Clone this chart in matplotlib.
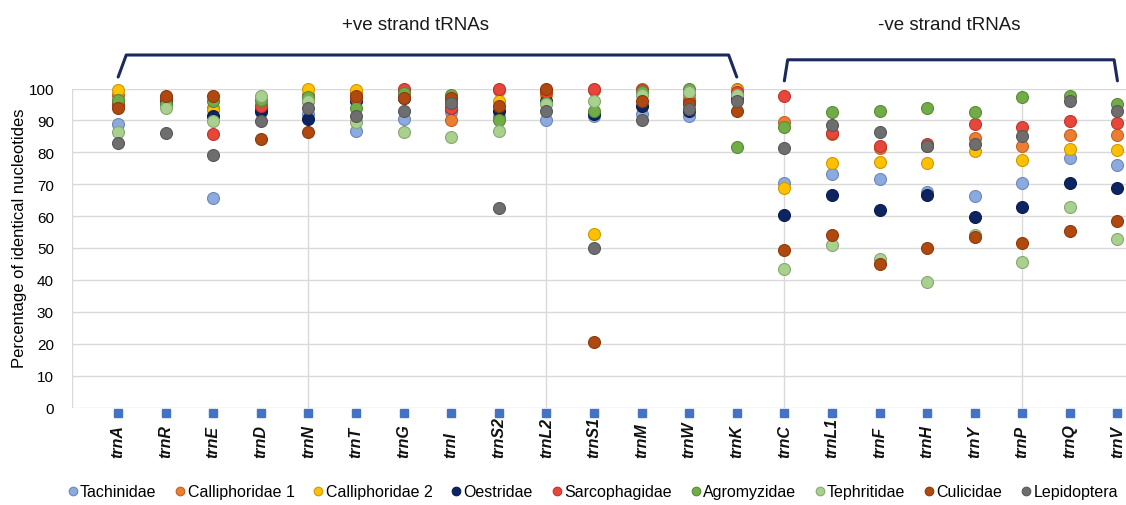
import matplotlib
matplotlib.use("Agg")
import matplotlib.pyplot as plt
import matplotlib.transforms as mtransforms
from matplotlib.colors import to_rgb

plt.rcParams['font.family'] = ['Liberation Sans', 'DejaVu Sans']

# tRNA genes on the x axis
genes = ['trnA', 'trnR', 'trnE', 'trnD', 'trnN', 'trnT', 'trnG', 'trnI', 'trnS2',
         'trnL2', 'trnS1', 'trnM', 'trnW', 'trnK',
         'trnC', 'trnL1', 'trnF', 'trnH', 'trnY', 'trnP', 'trnQ', 'trnV']

# percentage of identical nucleotides per family
tachinidae     = [89, 95, 65.7, 92.5, 92, 86.7, 90.3, 92.5, 91, 90, 91.5, 92, 91.5, 97,
                  70.3, 73.2, 71.7, 67.5, 66.3, 70.4, 78.3, 76]
calliphoridae1 = [98, 97, 94, 94, 98, 99, 99, 90, 99.5, 99, 99.5, 100, 98, 100,
                  89.5, 85.8, 81.5, 82, 84.5, 82, 85.5, 85.5]
calliphoridae2 = [99.5, 97, 93.4, 95, 99.7, 99.5, 99, 96, 96, 98, 54.5, 99, 97, 99.5,
                  68.8, 76.8, 77, 76.8, 80.5, 77.5, 81, 80.7]
oestridae      = [95, 96, 91.3, 93, 90.3, 96, 97, 94, 93, 96, 92, 94.5, 93, 97,
                  60.5, 66.5, 62, 66.5, 59.8, 63, 70.3, 68.8]
sarcophagidae  = [95, 97, 85.8, 94.5, 96, 97, 100, 94, 100, 99, 100, 99.5, 96, 99,
                  97.5, 86, 82, 82.5, 89, 88, 89.8, 89.3]
agromyzidae    = [96.5, 95, 96, 96.5, 97.4, 94, 98.6, 98, 90, 95.5, 93, 99, 100, 81.7,
                  87.8, 92.5, 93, 94, 92.6, 97.3, 97.5, 95]
tephritidae    = [86.5, 94, 89.8, 97.5, 96, 89.5, 86.3, 84.7, 86.6, 95, 96, 98, 99, 98,
                  43.5, 51, 46.5, 39.3, 54, 45.6, 62.8, 52.8]
culicidae      = [94, 97.5, 97.8, 84.3, 86.3, 97.8, 97, 97, 94.4, 100, 20.5, 96, 95, 93,
                  49.5, 54, 45, 50, 53.3, 51.7, 55.2, 58.5]
lepidoptera    = [83, 86, 79, 89.8, 94, 91.3, 93, 95.5, 62.5, 93, 50, 90, 93.5, 96,
                  81.5, 88.6, 86.5, 82, 82.5, 85, 96, 93]

families = ['Tachinidae', 'Calliphoridae 1', 'Calliphoridae 2', 'Oestridae',
            'Sarcophagidae', 'Agromyzidae', 'Tephritidae', 'Culicidae', 'Lepidoptera']
series = [tachinidae, calliphoridae1, calliphoridae2, oestridae, sarcophagidae,
          agromyzidae, tephritidae, culicidae, lepidoptera]
colors = ['#8AAAE0', '#ED7D31', '#FFC000', '#0C2461', '#E8463A',
          '#70AD47', '#A9D18E', '#B0490F', '#6E6E6E']

# strand groups: (label, first gene, last gene)
groups = [('+ve strand tRNAs', 'trnA', 'trnK'), ('-ve strand tRNAs', 'trnC', 'trnV')]

baseline = [0] * len(genes)

W, H = 1126, 506
fig = plt.figure(figsize=(W / 100, H / 100), dpi=100)
ax = fig.add_axes([72 / W, 1 - 408.5 / H, 1 - 72 / W, 319 / H])

x = list(range(len(genes)))
ax.set_xlim(-0.97, 21.18)
ax.set_ylim(0, 100)

grid_c = '#D9D9D9'
for v in range(0, 101, 10):
    ax.axhline(v, color=grid_c, lw=1.0, zorder=0)
for v in (-0.97, 4, 9, 14, 19):
    ax.axvline(v, color=grid_c, lw=1.0, zorder=0)

for s in ax.spines.values():
    s.set_visible(False)


def darker(c, f=0.8):
    r, g, b = to_rgb(c)
    return (r * f, g * f, b * f)


for name, vals, c in zip(families, series, colors):
    ax.plot(x, vals, linestyle='none', marker='o', ms=8.6, mfc=c,
            mec=darker(c), mew=0.8, label=name, clip_on=False, zorder=3)

# category markers along the zero line
shift = mtransforms.ScaledTranslation(0, -4 / 72, fig.dpi_scale_trans)
ax.plot(x, baseline, linestyle='none', marker='s', ms=5.3, color='#4472C4',
        transform=ax.transData + shift, clip_on=False, zorder=4)

ax.set_yticks(range(0, 101, 10))
ax.tick_params(axis='y', length=0, pad=13, labelsize=11)
ax.set_xticks(x)
ax.set_xticklabels([])
ax.tick_params(axis='x', length=0)
ax.set_ylabel('Percentage of identical nucleotides', fontsize=12)
ax.yaxis.set_label_coords((27 - 72) / (W - 72), (408.5 - 238) / 319)

# rotated gene labels, starting at a common baseline
lab_tr = mtransforms.blended_transform_factory(ax.transData, fig.transFigure)
for i, g in enumerate(genes):
    ax.text(i, 1 - 458 / H, g, transform=lab_tr, rotation=90,
            rotation_mode='anchor', ha='left', va='center',
            fontsize=11.5, fontweight='bold', fontstyle='italic', color='#111111')

# strand brackets with titles
br_c = '#1B2A5C'
for k, (label, g0, g1) in enumerate(groups):
    i0, i1 = genes.index(g0), genes.index(g1)
    top = 110.5 if k == 0 else 109
    foot = 103.6 if k == 0 else 102.4
    lean = 0.17 if k == 0 else 0.07
    ax.plot([i0, i0 + lean, i1 - lean, i1], [foot, top, top, foot],
            color=br_c, lw=2.2, clip_on=False, solid_joinstyle='round',
            solid_capstyle='round')
    cx = 416 if k == 0 else 949
    fig.text(cx / W, 1 - 25 / H, label, ha='center', va='center', fontsize=13.5,
             color='#1a1a1a')

leg = fig.legend(loc='center', bbox_to_anchor=(593 / W, 1 - 493 / H), ncol=9,
                 frameon=False, fontsize=11.5, handlelength=0.6,
                 handletextpad=0.15, columnspacing=1.2, markerscale=0.72,
                 borderaxespad=0)

fig.savefig('out.png', dpi=100)
